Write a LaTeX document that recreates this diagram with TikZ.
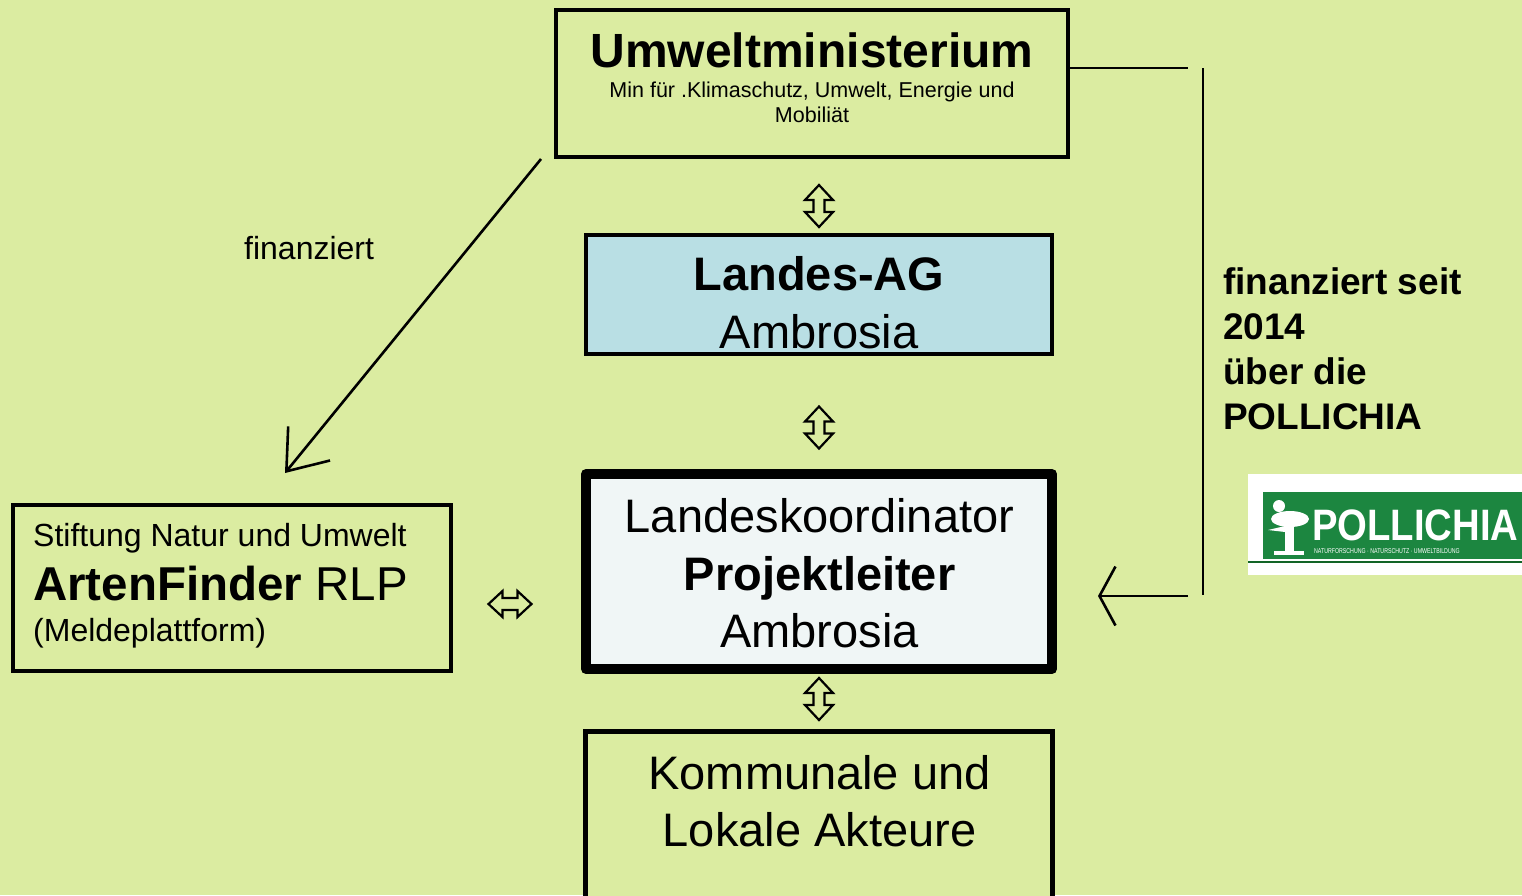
\documentclass[tikz,border=0pt]{standalone}
\usepackage{fontspec}
\setmainfont{Liberation Sans}
\usetikzlibrary{arrows.meta}
\definecolor{bg}{RGB}{219,236,161}
\definecolor{agblue}{RGB}{185,223,228}
\definecolor{pale}{RGB}{240,246,246}
\definecolor{pgreen}{RGB}{28,134,64}
\definecolor{pdark}{RGB}{18,100,38}
\newcommand\myfs[2]{\fontsize{#1}{#2}\selectfont}
\begin{document}
\begin{tikzpicture}[x=1pt,y=-1pt,
  box/.style={draw=black, line width=4pt, inner sep=0pt, fill=bg},
  txt/.style={inner sep=0pt, anchor=base},
  txtl/.style={inner sep=0pt, anchor=base west},
  conn/.style={draw=black, line width=2.6pt},
  vdbl/.pic={\draw[line width=2.2pt, miter limit=10]
     (0,-21)--(14,-6)--(5.5,-6)--(5.5,6)--(14,6)--(0,21)--(-14,6)--(-5.5,6)--(-5.5,-6)--(-14,-6)--cycle;},
  hdbl/.pic={\draw[line width=2.2pt, miter limit=10]
     (-21.5,0)--(-7.5,-13)--(-7.5,-6)--(7.5,-6)--(7.5,-13)--(21.5,0)--(7.5,13)--(7.5,6)--(-7.5,6)--(-7.5,13)--cycle;}]
\useasboundingbox (0,0) rectangle (1522,895);
\clip (0,0) rectangle (1522,895);
\fill[bg] (0,0) rectangle (1522,895);

% boxes
\node[box, minimum width=512pt, minimum height=147pt] (ministry) at (812,83.5) {};
\node[box, fill=agblue, minimum width=466pt, minimum height=119pt] (landesag) at (819,294.5) {};
\node[box, fill=pale, line width=10pt, line join=round, minimum width=466pt, minimum height=195pt] (koord) at (819,571.5) {};
\node[box, line width=5pt, minimum width=467pt, minimum height=178.5pt] (kommunal) at (819,820.75) {};
\node[box, minimum width=438pt, minimum height=166pt] (artenfinder) at (232,588) {};

% texts
\node[txt, font=\bfseries\myfs{48}{58}] (mt) at (812,67) {Umweltministerium};
\node[txt, font=\myfs{21.5}{25}] (ms1) at (812,97) {Min für .Klimaschutz, Umwelt, Energie und};
\node[txt, font=\myfs{21.5}{25}] (ms2) at (812,122) {Mobiliät};

\node[txt, font=\bfseries\myfs{47}{57}] (la1) at (819,290) {Landes-AG};
\node[txt, font=\myfs{47}{57}] (la2) at (819,348) {Ambrosia};

\node[txt, font=\myfs{47}{57}] (ko1) at (819.5,532) {Landeskoordinator};
\node[txt, font=\bfseries\myfs{47}{57}] (ko2) at (819.5,590) {Projektleiter};
\node[txt, font=\myfs{47}{57}] (ko3) at (819.5,647) {Ambrosia};

\node[txt, font=\myfs{47}{57}] (km1) at (819.5,789) {Kommunale und};
\node[txt, font=\myfs{47}{57}] (km2) at (819.5,846) {Lokale Akteure};

\node[txtl, font=\myfs{32}{38}] (af1) at (33,546) {Stiftung Natur und Umwelt};
\node[txtl, font=\myfs{47.5}{56}] (af2) at (33,600) {\textbf{ArtenFinder} RLP};
\node[txtl, font=\myfs{32}{38}] (af3) at (33,641) {(Meldeplattform)};

\node[txtl, font=\myfs{32}{38}] (fin) at (244,259) {finanziert};

\node[txtl, font=\bfseries\myfs{37}{45}] (r1) at (1223,294) {finanziert seit};
\node[txtl, font=\bfseries\myfs{37}{45}] (r2) at (1223,339) {2014};
\node[txtl, font=\bfseries\myfs{37}{45}] (r3) at (1223,384) {über die};
\node[txtl, font=\bfseries\myfs{37}{45}] (r4) at (1223,429) {POLLICHIA};

% connectors
\coordinate (dstart) at ([xshift=-13pt]ministry.south west);
\coordinate (dend) at (285,473);
\draw[conn, -{Straight Barb[length=36pt, width=54pt, line width=2.6pt]}] (dstart) -- (dend);

\coordinate (h1) at (1188,68);
\coordinate (v1) at (1203,68);
\coordinate (v2) at (1203,595);
\coordinate (h2) at (1188,596);
\coordinate (h3) at (1098,596);
\draw[conn] (h1 -| ministry.east) -- (h1);
\draw[conn] (v1) -- (v2);
\draw[conn, -{Straight Barb[length=16pt, width=59pt, line width=2.6pt]}] (h2) -- (h3);

% hollow double arrows
\pic at (819,206) {vdbl};
\pic at (819,427.5) {vdbl};
\pic at (819,699) {vdbl};
\pic at (510,604) {hdbl};

% POLLICHIA logo
\fill[white] (1248,474) rectangle (1522,575);
\fill[pgreen] (1263,492) rectangle (1522,559);
\draw[pdark, line width=2pt] (1248,562) -- (1522,562);
\fill[white] (1290,519) ellipse [x radius=19, y radius=8];
\fill[white] (1279,506) circle [radius=6];
\fill[white] (1285,522) rectangle (1294,552);
\fill[white] (1274,551) rectangle (1304,555);
\fill[white] (1268,530) -- (1285,526) -- (1285,532) -- cycle;
\node[txtl, text=white, font=\bfseries\myfs{44}{50}, xscale=0.87, transform shape] (logo) at (1312,540) {POLLICHIA};
\node[txtl, text=white, font=\myfs{7}{8}, xscale=0.75, transform shape] (logosub) at (1314,553) {NATURFORSCHUNG · NATURSCHUTZ · UMWELTBILDUNG};
\end{tikzpicture}
\end{document}
